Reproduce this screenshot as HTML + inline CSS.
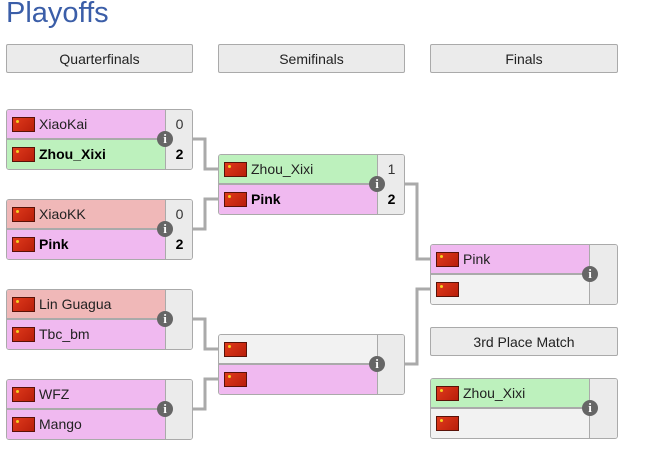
<!DOCTYPE html>
<html><head><meta charset="utf-8"><style>
body{margin:0;width:662px;height:454px;background:#fff;position:relative;font-family:"Liberation Sans","DejaVu Sans",sans-serif;overflow:hidden}
.t{position:absolute;left:6px;top:-3px;font-size:29px;color:#3b5ea8}
.h{position:absolute;height:29px;line-height:29px;text-align:center;font-size:14px;color:#222;background:#ebebeb;border:1px solid #aaa;border-radius:2px;box-sizing:border-box}
.m{position:absolute;width:187px;height:61px;border:1px solid #aaa;border-radius:3px;box-sizing:border-box;overflow:hidden;background:#f2f2f2}
.r{position:absolute;left:0;width:158px;height:29px;line-height:29px;font-size:14px;color:#222;padding-left:32px;box-sizing:border-box}
.r.b{font-weight:bold;color:#000}
.r1{top:0;border-bottom:2px solid #aaa;height:30px}
.r2{top:30px}
.s{position:absolute;left:158px;width:27px;height:29px;line-height:29px;text-align:center;font-size:14px;background:#ebebeb;border-left:1px solid #aaa;color:#333}
.s1{top:0;border-bottom:2px solid #aaa;height:30px}
.s2{top:30px}
.s.b{font-weight:bold;color:#000}
.f{position:absolute;left:5px;top:7px;width:21px;height:13px;background:linear-gradient(135deg,#e03a1c,#b81e0a);border:1px solid #5a1208}
.f:after{content:"";position:absolute;left:3px;top:2px;width:3px;height:3px;background:#f5d020;border-radius:50%}
.p{background:#f0b9f0}.g{background:#bdf1bd}.x{background:#f0b8b8}.w{background:#f2f2f2}
.i{position:absolute;width:16px;height:16px;border-radius:50%;background:#666;color:#fff;font-size:13px;font-weight:bold;line-height:16px;text-align:center;font-family:"Liberation Serif",serif}
</style></head><body>
<div class="t">Playoffs</div>
<div class="h" style="left:6px;top:44px;width:187px">Quarterfinals</div>
<div class="h" style="left:218px;top:44px;width:187px">Semifinals</div>
<div class="h" style="left:430px;top:44px;width:188px">Finals</div>
<div class="h" style="left:430px;top:327px;width:188px">3rd Place Match</div>

<svg width="662" height="454" style="position:absolute;left:0;top:0" fill="none" stroke="#aaa" stroke-width="3">
<path d="M192 139H205V169H218"/>
<path d="M192 229H205V199H218"/>
<path d="M192 319H205V349H218"/>
<path d="M192 409H205V379H218"/>
<path d="M404 184H417V259H430"/>
<path d="M404 364H417V289H430"/>
</svg>

<div class="m" style="left:6px;top:109px"><div class="r r1 p"><span class="f"></span>XiaoKai</div><div class="r r2 g b"><span class="f"></span>Zhou_Xixi</div><div class="s s1">0</div><div class="s s2 b">2</div></div>
<div class="m" style="left:6px;top:199px"><div class="r r1 x"><span class="f"></span>XiaoKK</div><div class="r r2 p b"><span class="f"></span>Pink</div><div class="s s1">0</div><div class="s s2 b">2</div></div>
<div class="m" style="left:6px;top:289px"><div class="r r1 x"><span class="f"></span>Lin Guagua</div><div class="r r2 p"><span class="f"></span>Tbc_bm</div><div class="s s1"></div><div class="s s2"></div></div>
<div class="m" style="left:6px;top:379px"><div class="r r1 p"><span class="f"></span>WFZ</div><div class="r r2 p"><span class="f"></span>Mango</div><div class="s s1"></div><div class="s s2"></div></div>

<div class="m" style="left:218px;top:154px"><div class="r r1 g"><span class="f"></span>Zhou_Xixi</div><div class="r r2 p b"><span class="f"></span>Pink</div><div class="s s1">1</div><div class="s s2 b">2</div></div>
<div class="m" style="left:218px;top:334px"><div class="r r1 w"><span class="f"></span></div><div class="r r2 p"><span class="f"></span></div><div class="s s1"></div><div class="s s2"></div></div>

<div class="m" style="left:430px;top:244px;width:188px"><div class="r r1 p"><span class="f"></span>Pink</div><div class="r r2 w"><span class="f"></span></div><div class="s s1"></div><div class="s s2"></div></div>
<div class="m" style="left:430px;top:378px;width:188px"><div class="r r1 g"><span class="f"></span>Zhou_Xixi</div><div class="r r2 w"><span class="f"></span></div><div class="s s1"></div><div class="s s2"></div></div>

<div class="i" style="left:157px;top:131px">i</div>
<div class="i" style="left:157px;top:221px">i</div>
<div class="i" style="left:157px;top:311px">i</div>
<div class="i" style="left:157px;top:401px">i</div>
<div class="i" style="left:369px;top:176px">i</div>
<div class="i" style="left:369px;top:356px">i</div>
<div class="i" style="left:582px;top:266px">i</div>
<div class="i" style="left:582px;top:400px">i</div>
</body></html>
